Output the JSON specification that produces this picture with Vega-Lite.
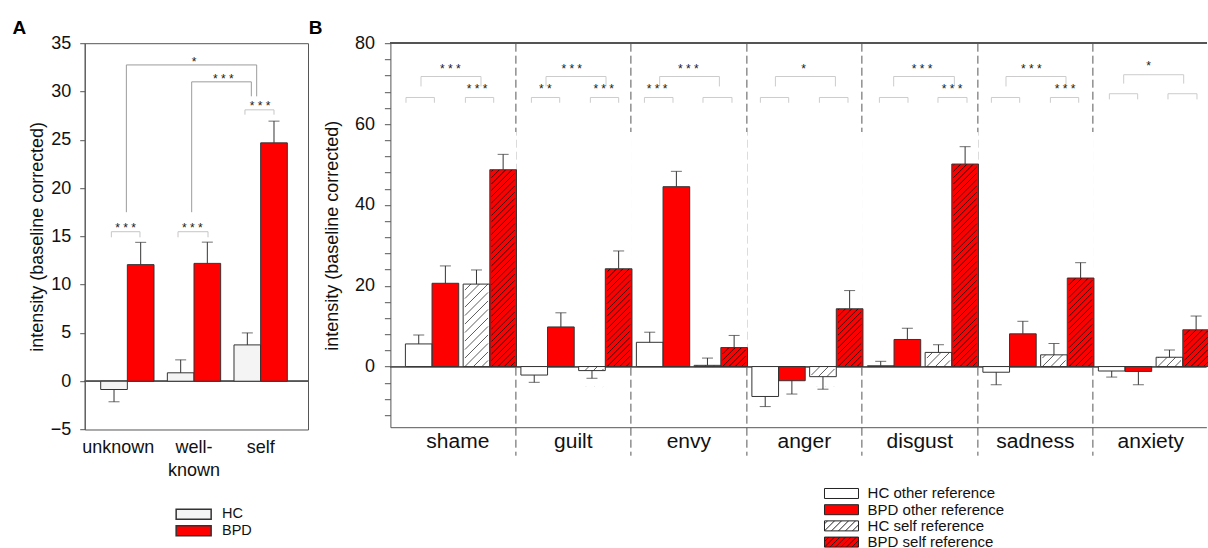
{
  "$schema": "https://vega.github.io/schema/vega-lite/v6.json",
  "padding": {"left": 11.7, "top": 18.2, "right": 0, "bottom": 0},
  "autosize": {"type": "pad"},
  "spacing": -1.3,
  "config": {
    "font": "Liberation Sans",
    "view": {"stroke": null},
    "axis": {"labelFont": "Liberation Sans", "titleFont": "Liberation Sans", "labelColor": "#111", "titleColor": "#111", "domainColor": "#555", "tickColor": "#555", "titleFontWeight": "normal", "grid": false},
    "legend": {"labelFont": "Liberation Sans", "labelColor": "#111"},
    "title": {"font": "Liberation Sans", "fontSize": 19, "fontWeight": "bold", "color": "#000", "anchor": "start", "frame": "group"}
  },
  "datasets": {
    "A": [
      {"cond": "unknown", "group": "HC", "value": -0.86, "err": -2.13},
      {"cond": "unknown", "group": "BPD", "value": 12.07, "err": 14.38},
      {"cond": "well-known", "group": "HC", "value": 0.87, "err": 2.21},
      {"cond": "well-known", "group": "BPD", "value": 12.2, "err": 14.4},
      {"cond": "self", "group": "HC", "value": 3.76, "err": 5.0},
      {"cond": "self", "group": "BPD", "value": 24.68, "err": 26.93}
    ],
    "Abr": [
      {"ua": -0.24, "ub": 0.189, "top": 15.48, "b1": 14.9, "b2": 14.9, "kind": "pair"},
      {"ua": 0.76, "ub": 1.21, "top": 15.48, "b1": 14.9, "b2": 14.9, "kind": "pair"},
      {"ua": 1.764, "ub": 2.2, "top": 28.1, "b1": 27.6, "b2": 27.6, "kind": "pair"},
      {"ua": -0.015, "ub": 1.94, "top": 32.75, "b1": 17.5, "b2": 29.5, "kind": "conn"},
      {"ua": 0.965, "ub": 1.86, "top": 31.0, "b1": 17.5, "b2": 29.5, "kind": "conn"}
    ],
    "Ast": [
      {"u": -0.025, "v": 15.45, "s": "* * *"},
      {"u": 0.975, "v": 15.45, "s": "* * *"},
      {"u": 1.99, "v": 28.04, "s": "* * *"},
      {"u": 1.0, "v": 32.69, "s": "*"},
      {"u": 1.44, "v": 30.89, "s": "* * *"}
    ],
    "B": [
      {"emotion": "shame", "ref": "other", "group": "HC", "cell": "shame|other", "series": "HC other reference", "value": 5.6, "err": 7.8},
      {"emotion": "shame", "ref": "other", "group": "BPD", "cell": "shame|other", "series": "BPD other reference", "value": 20.6, "err": 24.9},
      {"emotion": "shame", "ref": "self", "group": "HC", "cell": "shame|self", "series": "HC self reference", "value": 20.4, "err": 23.9},
      {"emotion": "shame", "ref": "self", "group": "BPD", "cell": "shame|self", "series": "BPD self reference", "value": 48.7, "err": 52.5},
      {"emotion": "guilt", "ref": "other", "group": "HC", "cell": "guilt|other", "series": "HC other reference", "value": -2.1, "err": -3.9},
      {"emotion": "guilt", "ref": "other", "group": "BPD", "cell": "guilt|other", "series": "BPD other reference", "value": 9.8, "err": 13.3},
      {"emotion": "guilt", "ref": "self", "group": "HC", "cell": "guilt|self", "series": "HC self reference", "value": -1.0, "err": -2.9},
      {"emotion": "guilt", "ref": "self", "group": "BPD", "cell": "guilt|self", "series": "BPD self reference", "value": 24.2, "err": 28.6},
      {"emotion": "envy", "ref": "other", "group": "HC", "cell": "envy|other", "series": "HC other reference", "value": 6.0, "err": 8.5},
      {"emotion": "envy", "ref": "other", "group": "BPD", "cell": "envy|other", "series": "BPD other reference", "value": 44.5, "err": 48.3},
      {"emotion": "envy", "ref": "self", "group": "HC", "cell": "envy|self", "series": "HC self reference", "value": 0.3, "err": 2.1},
      {"emotion": "envy", "ref": "self", "group": "BPD", "cell": "envy|self", "series": "BPD self reference", "value": 4.7, "err": 7.7},
      {"emotion": "anger", "ref": "other", "group": "HC", "cell": "anger|other", "series": "HC other reference", "value": -7.4, "err": -9.9},
      {"emotion": "anger", "ref": "other", "group": "BPD", "cell": "anger|other", "series": "BPD other reference", "value": -3.5, "err": -6.8},
      {"emotion": "anger", "ref": "self", "group": "HC", "cell": "anger|self", "series": "HC self reference", "value": -2.5, "err": -5.6},
      {"emotion": "anger", "ref": "self", "group": "BPD", "cell": "anger|self", "series": "BPD self reference", "value": 14.3, "err": 18.8},
      {"emotion": "disgust", "ref": "other", "group": "HC", "cell": "disgust|other", "series": "HC other reference", "value": 0.2, "err": 1.3},
      {"emotion": "disgust", "ref": "other", "group": "BPD", "cell": "disgust|other", "series": "BPD other reference", "value": 6.7, "err": 9.5},
      {"emotion": "disgust", "ref": "self", "group": "HC", "cell": "disgust|self", "series": "HC self reference", "value": 3.5, "err": 5.4},
      {"emotion": "disgust", "ref": "self", "group": "BPD", "cell": "disgust|self", "series": "BPD self reference", "value": 50.1, "err": 54.4},
      {"emotion": "sadness", "ref": "other", "group": "HC", "cell": "sadness|other", "series": "HC other reference", "value": -1.4, "err": -4.5},
      {"emotion": "sadness", "ref": "other", "group": "BPD", "cell": "sadness|other", "series": "BPD other reference", "value": 8.1, "err": 11.2},
      {"emotion": "sadness", "ref": "self", "group": "HC", "cell": "sadness|self", "series": "HC self reference", "value": 2.9, "err": 5.7},
      {"emotion": "sadness", "ref": "self", "group": "BPD", "cell": "sadness|self", "series": "BPD self reference", "value": 21.9, "err": 25.7},
      {"emotion": "anxiety", "ref": "other", "group": "HC", "cell": "anxiety|other", "series": "HC other reference", "value": -1.1, "err": -2.6},
      {"emotion": "anxiety", "ref": "other", "group": "BPD", "cell": "anxiety|other", "series": "BPD other reference", "value": -1.2, "err": -4.5},
      {"emotion": "anxiety", "ref": "self", "group": "HC", "cell": "anxiety|self", "series": "HC self reference", "value": 2.3, "err": 4.1},
      {"emotion": "anxiety", "ref": "self", "group": "BPD", "cell": "anxiety|self", "series": "BPD self reference", "value": 9.1, "err": 12.5}
    ],
    "Bbr": [
      {"ua": 0.010, "ub": 0.502, "top": 66.57, "b1": 65.26, "b2": 65.26},
      {"ua": 1.039, "ub": 1.529, "top": 66.57, "b1": 65.26, "b2": 65.26},
      {"ua": 2.182, "ub": 2.672, "top": 66.57, "b1": 65.26, "b2": 65.26},
      {"ua": 3.203, "ub": 3.693, "top": 66.57, "b1": 65.26, "b2": 65.26},
      {"ua": 4.139, "ub": 4.634, "top": 66.57, "b1": 65.26, "b2": 65.26},
      {"ua": 5.153, "ub": 5.655, "top": 66.57, "b1": 65.26, "b2": 65.26},
      {"ua": 6.147, "ub": 6.637, "top": 66.57, "b1": 65.26, "b2": 65.26},
      {"ua": 7.169, "ub": 7.664, "top": 66.57, "b1": 65.26, "b2": 65.26},
      {"ua": 8.208, "ub": 8.703, "top": 66.57, "b1": 65.26, "b2": 65.26},
      {"ua": 9.222, "ub": 9.725, "top": 66.57, "b1": 65.26, "b2": 65.26},
      {"ua": 10.147, "ub": 10.637, "top": 66.57, "b1": 65.26, "b2": 65.26},
      {"ua": 11.169, "ub": 11.659, "top": 66.57, "b1": 65.26, "b2": 65.26},
      {"ua": 12.190, "ub": 12.680, "top": 67.5, "b1": 66.1, "b2": 66.1},
      {"ua": 13.205, "ub": 13.707, "top": 67.5, "b1": 66.1, "b2": 66.1},
      {"ua": 0.270, "ub": 1.309, "top": 71.76, "b1": 69.3, "b2": 69.3},
      {"ua": 2.435, "ub": 3.474, "top": 71.76, "b1": 69.3, "b2": 69.3},
      {"ua": 4.403, "ub": 5.437, "top": 71.76, "b1": 69.3, "b2": 69.3},
      {"ua": 6.407, "ub": 7.446, "top": 71.76, "b1": 69.3, "b2": 69.3},
      {"ua": 8.455, "ub": 9.506, "top": 71.76, "b1": 69.3, "b2": 69.3},
      {"ua": 10.400, "ub": 11.439, "top": 71.76, "b1": 69.3, "b2": 69.3},
      {"ua": 12.438, "ub": 13.477, "top": 72.2, "b1": 70.0, "b2": 70.0}
    ],
    "Bst": [
      {"u": 0.779, "v": 72.75, "s": "* * *"},
      {"u": 2.880, "v": 72.75, "s": "* * *"},
      {"u": 4.900, "v": 72.75, "s": "* * *"},
      {"u": 6.897, "v": 72.75, "s": "*"},
      {"u": 8.946, "v": 72.75, "s": "* * *"},
      {"u": 10.840, "v": 72.75, "s": "* * *"},
      {"u": 12.871, "v": 73.35, "s": "*"},
      {"u": 1.240, "v": 67.73, "s": "* * *"},
      {"u": 2.424, "v": 67.73, "s": "* *"},
      {"u": 3.434, "v": 67.73, "s": "* * *"},
      {"u": 4.357, "v": 67.73, "s": "* * *"},
      {"u": 9.465, "v": 67.73, "s": "* * *"},
      {"u": 11.422, "v": 67.73, "s": "* * *"}
    ]
  },
  "hconcat": [
    {
      "width": 223.3,
      "height": 386.3,
      "view": {"stroke": "#555", "strokeWidth": 1},
      "title": {"text": "A", "dx": -72.3, "offset": -19, "baseline": "alphabetic"},
      "layer": [
        {
          "data": {"name": "A"},
          "layer": [
            {
              "mark": {"type": "rule", "color": "#555", "strokeWidth": 1},
              "encoding": {"y": {"datum": 0, "type": "quantitative", "scale": {"domain": [-5, 35], "nice": false, "zero": false}}}
            },
            {
              "mark": {"type": "bar", "stroke": "#333", "strokeWidth": 1},
              "encoding": {
                "x": {"field": "cond", "type": "nominal", "scale": {"type": "band", "domain": ["unknown", "well-known", "self"], "paddingInner": 0.2, "paddingOuter": 0.275, "align": 0.436, "round": false},
                  "axis": {"title": null, "ticks": false, "tickSize": 0, "domain": false, "labelFontSize": 18, "labelPadding": 9, "labelAngle": 0, "labelLineHeight": 23, "labelExpr": "datum.value === 'well-known' ? ['well-', 'known'] : datum.label", "labelOffset": {"condition": {"test": "datum.value === 'unknown'", "value": -9}, "value": 0}}},
                "xOffset": {"field": "group", "type": "nominal", "scale": {"domain": ["HC", "BPD"], "paddingInner": 0, "paddingOuter": 0}},
                "y": {"field": "value", "type": "quantitative", "stack": null, "scale": {"domain": [-5, 35], "nice": false, "zero": false},
                  "axis": {"title": "intensity (baseline corrected)", "values": [-5, 0, 5, 10, 15, 20, 25, 30, 35], "tickCount": 30, "tickSize": 5, "labelPadding": 9, "titlePadding": 4, "labelFontSize": 18, "titleFontSize": 18, "labelOverlap": false}},
                "fill": {"field": "group", "type": "nominal", "scale": {"domain": ["HC", "BPD"], "range": ["#f4f4f4", "#ff0000"]},
                  "legend": {"title": null, "orient": "none", "legendX": 101.7, "legendY": 463.8, "symbolType": "M-3.5,-1H3.5V1H-3.5Z", "symbolSize": 100, "labelFontSize": 14.5, "labelOffset": 21.1, "rowPadding": -0.5, "padding": 0,
                    "encode": {"symbols": {"update": {"stroke": {"value": "#222"}, "strokeWidth": {"value": 1}, "opacity": {"value": 1}}}}}}
              }
            },
            {
              "mark": {"type": "rule", "color": "#333", "strokeWidth": 1},
              "encoding": {
                "x": {"field": "cond", "type": "nominal", "scale": {"type": "band", "domain": ["unknown", "well-known", "self"], "paddingInner": 0.2, "paddingOuter": 0.275, "align": 0.436, "round": false}},
                "xOffset": {"field": "group", "type": "nominal", "scale": {"domain": ["HC", "BPD"], "paddingInner": 0, "paddingOuter": 0}},
                "y": {"field": "value", "type": "quantitative", "scale": {"domain": [-5, 35], "nice": false, "zero": false}},
                "y2": {"field": "err"}
              }
            },
            {
              "mark": {"type": "tick", "color": "#333", "size": 11, "thickness": 1},
              "encoding": {
                "x": {"field": "cond", "type": "nominal", "scale": {"type": "band", "domain": ["unknown", "well-known", "self"], "paddingInner": 0.2, "paddingOuter": 0.275, "align": 0.436, "round": false}},
                "xOffset": {"field": "group", "type": "nominal", "scale": {"domain": ["HC", "BPD"], "paddingInner": 0, "paddingOuter": 0}},
                "y": {"field": "err", "type": "quantitative", "scale": {"domain": [-5, 35], "nice": false, "zero": false}}
              }
            }
          ]
        },
        {
          "data": {"name": "Abr"},
          "encoding": {
            "color": {"field": "kind", "type": "nominal", "scale": {"domain": ["pair", "conn"], "range": ["#c6c6c6", "#9c9c9c"]}, "legend": null}
          },
          "layer": [
            {
              "mark": {"type": "rule", "strokeWidth": 1},
              "encoding": {
                "x": {"field": "ua", "type": "quantitative", "scale": {"domain": [-0.64, 2.71], "nice": false, "zero": false}, "axis": null},
                "x2": {"field": "ub"},
                "y": {"field": "top", "type": "quantitative", "scale": {"domain": [-5, 35], "nice": false, "zero": false}}
              }
            },
            {
              "mark": {"type": "rule", "strokeWidth": 1},
              "encoding": {
                "x": {"field": "ua", "type": "quantitative", "scale": {"domain": [-0.64, 2.71], "nice": false, "zero": false}, "axis": null},
                "y": {"field": "top", "type": "quantitative", "scale": {"domain": [-5, 35], "nice": false, "zero": false}},
                "y2": {"field": "b1"}
              }
            },
            {
              "mark": {"type": "rule", "strokeWidth": 1},
              "encoding": {
                "x": {"field": "ub", "type": "quantitative", "scale": {"domain": [-0.64, 2.71], "nice": false, "zero": false}, "axis": null},
                "y": {"field": "top", "type": "quantitative", "scale": {"domain": [-5, 35], "nice": false, "zero": false}},
                "y2": {"field": "b2"}
              }
            }
          ]
        },
        {
          "data": {"name": "Ast"},
          "mark": {"type": "text", "align": "center", "baseline": "alphabetic", "fontSize": 12, "color": "#222"},
          "encoding": {
            "x": {"field": "u", "type": "quantitative", "scale": {"domain": [-0.64, 2.71], "nice": false, "zero": false}, "axis": null},
            "y": {"field": "v", "type": "quantitative", "scale": {"domain": [-5, 35], "nice": false, "zero": false}},
            "text": {"field": "s"}
          }
        }
      ],
      "resolve": {"scale": {"x": "independent"}}
    },
    {
      "width": 816,
      "height": 384,
      "title": {"text": "B", "dx": -81.7, "offset": -19, "baseline": "alphabetic"},
      "layer": [
        {
          "data": {"name": "B"},
          "layer": [
            {
              "mark": {"type": "rule", "color": "#555", "strokeWidth": 1},
              "encoding": {"y": {"datum": 0, "type": "quantitative", "scale": {"domain": [-15, 80], "nice": false, "zero": false}}}
            },
            {
              "mark": {"type": "rule", "color": "#555", "strokeWidth": 1},
              "encoding": {"y": {"datum": 80, "type": "quantitative", "scale": {"domain": [-15, 80], "nice": false, "zero": false}}}
            },
            {
              "mark": {"type": "bar", "strokeWidth": 0},
              "encoding": {
                "x": {"field": "cell", "type": "nominal", "scale": {"type": "band", "domain": ["shame|other", "shame|self", "guilt|other", "guilt|self", "envy|other", "envy|self", "anger|other", "anger|self", "disgust|other", "disgust|self", "sadness|other", "sadness|self", "anxiety|other", "anxiety|self"], "paddingInner": 0.2, "paddingOuter": 0.165, "align": 0.787, "round": false},
                  "axis": {"title": null, "bandPosition": 0, "tickOffset": -5.77, "ticks": true, "tickSize": 28, "tickDash": [8, 4], "tickColor": "#555", "tickWidth": 1,
                    "tickOpacity": {"condition": {"test": "datum.value === 'guilt|other' || datum.value === 'envy|other' || datum.value === 'anger|other' || datum.value === 'disgust|other' || datum.value === 'sadness|other' || datum.value === 'anxiety|other'", "value": 1}, "value": 0},
                    "grid": true, "gridDash": [8, 4], "gridColor": "#555", "gridWidth": 1,
                    "gridOpacity": {"condition": {"test": "datum.value === 'guilt|other' || datum.value === 'envy|other' || datum.value === 'anger|other' || datum.value === 'disgust|other' || datum.value === 'sadness|other' || datum.value === 'anxiety|other'", "value": 1}, "value": 0},
                    "labelExpr": "datum.value === 'shame|other' ? 'shame' : datum.value === 'guilt|other' ? 'guilt' : datum.value === 'envy|other' ? 'envy' : datum.value === 'anger|other' ? 'anger' : datum.value === 'disgust|other' ? 'disgust' : datum.value === 'sadness|other' ? 'sadness' : datum.value === 'anxiety|other' ? 'anxiety' : ''",
                    "labelOffset": 34.63, "labelPadding": -25, "labelFontSize": 21, "labelAngle": 0, "labelOverlap": false, "labelBound": false, "labelFlush": false, "domainColor": "#555"}},
                "xOffset": {"field": "group", "type": "nominal", "scale": {"domain": ["HC", "BPD"], "paddingInner": 0, "paddingOuter": 0}},
                "y": {"field": "value", "type": "quantitative", "stack": null, "scale": {"domain": [-15, 80], "nice": false, "zero": false},
                  "axis": {"title": "intensity (baseline corrected)", "values": [-12, -8, -4, 0, 4, 8, 12, 16, 20, 24, 28, 32, 36, 40, 44, 48, 52, 56, 60, 64, 68, 72, 76, 80], "tickCount": 100, "labelExpr": "datum.value % 20 === 0 ? datum.label : ''", "tickSize": 6, "labelPadding": 10, "titlePadding": 12.5, "labelFontSize": 18, "titleFontSize": 18, "labelOverlap": false}},
                "fill": {"field": "series", "type": "nominal", "scale": {"domain": ["HC other reference", "BPD other reference", "HC self reference", "BPD self reference"], "range": ["#ffffff", "#ff0000", "#ffffff", "#ff0000"]},
                  "legend": {"title": null, "orient": "none", "legendX": 443.6, "legendY": 442.8, "symbolType": "M-3.4,-1H3.4V1H-3.4Z", "symbolSize": 100, "labelFontSize": 15, "labelOffset": 18.6, "rowPadding": 0.2, "padding": 0, "labelLimit": 400,
                    "encode": {"symbols": {"update": {
                      "shape": {"signal": "datum.value === 'HC self reference' ? 'M-3.4,-1H3.4V1H-3.4ZM-3.4,1L-1.4,-1M-2,1L0,-1M-0.6,1L1.4,-1M0.8,1L2.8,-1M2.2,1L3.4,-0.2M-3.4,-0.4L-2.8,-1' : datum.value === 'BPD self reference' ? 'M-3.4,-1H3.4V1H-3.4ZM-3.4,1L-1.4,-1M-2.3,1L-0.3,-1M-1.2,1L0.8,-1M-0.1,1L1.9,-1M1,1L3,-1M2.1,1L3.4,-0.3M3.2,1L3.4,0.8M-3.4,-0.1L-2.5,-1' : 'M-3.4,-1H3.4V1H-3.4Z'"},
                      "stroke": {"value": "#222"}, "strokeWidth": {"value": 1}, "opacity": {"value": 1}}}}}}
              }
            },
            {
              "transform": [{"filter": "datum.ref === 'self' && datum.group === 'BPD' && datum.value > 0"}],
              "mark": {"type": "point", "filled": false, "stroke": "#000", "strokeWidth": 0.8, "opacity": 1, "size": 4,
                "shape": "M-5.25,0l16.8,-16.8M1.05,0l10.5,-10.5M7.35,0l4.2,-4.2M-11.55,0l23.1,-23.1M-11.55,-6.3l23.1,-23.1M-11.55,-12.6l23.1,-23.1M-11.55,-18.9l23.1,-23.1M-11.55,-25.2l23.1,-23.1M-11.55,-31.5l23.1,-23.1M-11.55,-37.8l23.1,-23.1M-11.55,-44.1l23.1,-23.1M-11.55,-50.4l23.1,-23.1M-11.55,-56.7l23.1,-23.1M-11.55,-63l23.1,-23.1M-11.55,-69.3l23.1,-23.1M-11.55,-75.6l23.1,-23.1M-11.55,-81.9l23.1,-23.1M-11.55,-88.2l23.1,-23.1M-11.55,-94.5l23.1,-23.1M-11.55,-100.8l23.1,-23.1M-11.55,-107.1l23.1,-23.1M-11.55,-113.4l23.1,-23.1M-11.55,-119.7l23.1,-23.1M-11.55,-126l23.1,-23.1M-11.55,-132.3l23.1,-23.1M-11.55,-138.6l23.1,-23.1M-11.55,-144.9l23.1,-23.1M-11.55,-151.2l23.1,-23.1M-11.55,-157.5l23.1,-23.1M-11.55,-163.8l23.1,-23.1M-11.55,-170.1l23.1,-23.1M-11.55,-176.4l23.1,-23.1M-11.55,-182.7l23.1,-23.1M-11.55,-189l23.1,-23.1M-11.55,-195.3l23.1,-23.1M-11.55,-201.6l23.1,-23.1M-11.55,-207.9l23.1,-23.1"},
              "encoding": {
                "x": {"field": "cell", "type": "nominal", "scale": {"type": "band", "domain": ["shame|other", "shame|self", "guilt|other", "guilt|self", "envy|other", "envy|self", "anger|other", "anger|self", "disgust|other", "disgust|self", "sadness|other", "sadness|self", "anxiety|other", "anxiety|self"], "paddingInner": 0.2, "paddingOuter": 0.165, "align": 0.787, "round": false}},
                "xOffset": {"field": "group", "type": "nominal", "scale": {"domain": ["HC", "BPD"], "paddingInner": 0, "paddingOuter": 0}},
                "y": {"datum": 0, "type": "quantitative", "scale": {"domain": [-15, 80], "nice": false, "zero": false}}
              }
            },
            {
              "transform": [{"filter": "datum.ref === 'self' && datum.group === 'HC' && datum.value > 0"}],
              "mark": {"type": "point", "filled": false, "stroke": "#333", "strokeWidth": 0.8, "opacity": 1, "size": 4,
                "shape": "M-3.05,0l14.6,-14.6M5.45,0l6.1,-6.1M-11.55,0l23.1,-23.1M-11.55,-8.5l23.1,-23.1M-11.55,-17l23.1,-23.1M-11.55,-25.5l23.1,-23.1M-11.55,-34l23.1,-23.1M-11.55,-42.5l23.1,-23.1M-11.55,-51l23.1,-23.1M-11.55,-59.5l23.1,-23.1M-11.55,-68l23.1,-23.1M-11.55,-76.5l23.1,-23.1M-11.55,-85l23.1,-23.1M-11.55,-93.5l23.1,-23.1M-11.55,-102l23.1,-23.1M-11.55,-110.5l23.1,-23.1"},
              "encoding": {
                "x": {"field": "cell", "type": "nominal", "scale": {"type": "band", "domain": ["shame|other", "shame|self", "guilt|other", "guilt|self", "envy|other", "envy|self", "anger|other", "anger|self", "disgust|other", "disgust|self", "sadness|other", "sadness|self", "anxiety|other", "anxiety|self"], "paddingInner": 0.2, "paddingOuter": 0.165, "align": 0.787, "round": false}},
                "xOffset": {"field": "group", "type": "nominal", "scale": {"domain": ["HC", "BPD"], "paddingInner": 0, "paddingOuter": 0}},
                "y": {"datum": 0, "type": "quantitative", "scale": {"domain": [-15, 80], "nice": false, "zero": false}}
              }
            },
            {
              "transform": [{"filter": "datum.ref === 'self' && datum.group === 'HC' && datum.value < 0"}],
              "mark": {"type": "point", "filled": false, "stroke": "#333", "strokeWidth": 0.8, "opacity": 1, "size": 4,
                "shape": "M-11.55,8.5L-3.05,0M-11.55,17L5.45,0M-6.05,20L11.55,2.4M2.45,20L11.55,10.9M10.95,20L11.55,19.4"},
              "encoding": {
                "x": {"field": "cell", "type": "nominal", "scale": {"type": "band", "domain": ["shame|other", "shame|self", "guilt|other", "guilt|self", "envy|other", "envy|self", "anger|other", "anger|self", "disgust|other", "disgust|self", "sadness|other", "sadness|self", "anxiety|other", "anxiety|self"], "paddingInner": 0.2, "paddingOuter": 0.165, "align": 0.787, "round": false}},
                "xOffset": {"field": "group", "type": "nominal", "scale": {"domain": ["HC", "BPD"], "paddingInner": 0, "paddingOuter": 0}},
                "y": {"datum": 0, "type": "quantitative", "scale": {"domain": [-15, 80], "nice": false, "zero": false}}
              }
            },
            {
              "transform": [{"filter": "datum.ref === 'self' && datum.value > 0"}],
              "mark": {"type": "bar", "fill": "#ffffff", "strokeWidth": 0},
              "encoding": {
                "x": {"field": "cell", "type": "nominal", "scale": {"type": "band", "domain": ["shame|other", "shame|self", "guilt|other", "guilt|self", "envy|other", "envy|self", "anger|other", "anger|self", "disgust|other", "disgust|self", "sadness|other", "sadness|self", "anxiety|other", "anxiety|self"], "paddingInner": 0.2, "paddingOuter": 0.165, "align": 0.787, "round": false}},
                "xOffset": {"field": "group", "type": "nominal", "scale": {"domain": ["HC", "BPD"], "paddingInner": 0, "paddingOuter": 0}},
                "y": {"field": "value", "type": "quantitative", "stack": null, "scale": {"domain": [-15, 80], "nice": false, "zero": false}},
                "y2": {"datum": 58}
              }
            },
            {
              "transform": [{"filter": "datum.ref === 'self' && datum.value < 0"}],
              "mark": {"type": "bar", "fill": "#ffffff", "strokeWidth": 0},
              "encoding": {
                "x": {"field": "cell", "type": "nominal", "scale": {"type": "band", "domain": ["shame|other", "shame|self", "guilt|other", "guilt|self", "envy|other", "envy|self", "anger|other", "anger|self", "disgust|other", "disgust|self", "sadness|other", "sadness|self", "anxiety|other", "anxiety|self"], "paddingInner": 0.2, "paddingOuter": 0.165, "align": 0.787, "round": false}},
                "xOffset": {"field": "group", "type": "nominal", "scale": {"domain": ["HC", "BPD"], "paddingInner": 0, "paddingOuter": 0}},
                "y": {"field": "value", "type": "quantitative", "stack": null, "scale": {"domain": [-15, 80], "nice": false, "zero": false}},
                "y2": {"datum": -5}
              }
            },
            {
              "mark": {"type": "bar", "fill": "transparent", "stroke": "#333", "strokeWidth": 1},
              "encoding": {
                "x": {"field": "cell", "type": "nominal", "scale": {"type": "band", "domain": ["shame|other", "shame|self", "guilt|other", "guilt|self", "envy|other", "envy|self", "anger|other", "anger|self", "disgust|other", "disgust|self", "sadness|other", "sadness|self", "anxiety|other", "anxiety|self"], "paddingInner": 0.2, "paddingOuter": 0.165, "align": 0.787, "round": false}},
                "xOffset": {"field": "group", "type": "nominal", "scale": {"domain": ["HC", "BPD"], "paddingInner": 0, "paddingOuter": 0}},
                "y": {"field": "value", "type": "quantitative", "stack": null, "scale": {"domain": [-15, 80], "nice": false, "zero": false}}
              }
            },
            {
              "mark": {"type": "rule", "color": "#333", "strokeWidth": 1},
              "encoding": {
                "x": {"field": "cell", "type": "nominal", "scale": {"type": "band", "domain": ["shame|other", "shame|self", "guilt|other", "guilt|self", "envy|other", "envy|self", "anger|other", "anger|self", "disgust|other", "disgust|self", "sadness|other", "sadness|self", "anxiety|other", "anxiety|self"], "paddingInner": 0.2, "paddingOuter": 0.165, "align": 0.787, "round": false}},
                "xOffset": {"field": "group", "type": "nominal", "scale": {"domain": ["HC", "BPD"], "paddingInner": 0, "paddingOuter": 0}},
                "y": {"field": "value", "type": "quantitative", "scale": {"domain": [-15, 80], "nice": false, "zero": false}},
                "y2": {"field": "err"}
              }
            },
            {
              "mark": {"type": "tick", "color": "#333", "size": 11, "thickness": 1},
              "encoding": {
                "x": {"field": "cell", "type": "nominal", "scale": {"type": "band", "domain": ["shame|other", "shame|self", "guilt|other", "guilt|self", "envy|other", "envy|self", "anger|other", "anger|self", "disgust|other", "disgust|self", "sadness|other", "sadness|self", "anxiety|other", "anxiety|self"], "paddingInner": 0.2, "paddingOuter": 0.165, "align": 0.787, "round": false}},
                "xOffset": {"field": "group", "type": "nominal", "scale": {"domain": ["HC", "BPD"], "paddingInner": 0, "paddingOuter": 0}},
                "y": {"field": "err", "type": "quantitative", "scale": {"domain": [-15, 80], "nice": false, "zero": false}}
              }
            }
          ]
        },
        {
          "data": {"name": "Bbr"},
          "layer": [
            {
              "mark": {"type": "rule", "color": "#cccccc", "strokeWidth": 1},
              "encoding": {
                "x": {"field": "ua", "type": "quantitative", "scale": {"domain": [-0.2597, 13.87], "nice": false, "zero": false}, "axis": null},
                "x2": {"field": "ub"},
                "y": {"field": "top", "type": "quantitative", "scale": {"domain": [-15, 80], "nice": false, "zero": false}}
              }
            },
            {
              "mark": {"type": "rule", "color": "#cccccc", "strokeWidth": 1},
              "encoding": {
                "x": {"field": "ua", "type": "quantitative", "scale": {"domain": [-0.2597, 13.87], "nice": false, "zero": false}, "axis": null},
                "y": {"field": "top", "type": "quantitative", "scale": {"domain": [-15, 80], "nice": false, "zero": false}},
                "y2": {"field": "b1"}
              }
            },
            {
              "mark": {"type": "rule", "color": "#cccccc", "strokeWidth": 1},
              "encoding": {
                "x": {"field": "ub", "type": "quantitative", "scale": {"domain": [-0.2597, 13.87], "nice": false, "zero": false}, "axis": null},
                "y": {"field": "top", "type": "quantitative", "scale": {"domain": [-15, 80], "nice": false, "zero": false}},
                "y2": {"field": "b2"}
              }
            }
          ]
        },
        {
          "data": {"name": "Bst"},
          "mark": {"type": "text", "align": "center", "baseline": "alphabetic", "fontSize": 12, "color": "#222"},
          "encoding": {
            "x": {"field": "u", "type": "quantitative", "scale": {"domain": [-0.2597, 13.87], "nice": false, "zero": false}, "axis": null},
            "y": {"field": "v", "type": "quantitative", "scale": {"domain": [-15, 80], "nice": false, "zero": false}},
            "text": {"field": "s"}
          }
        }
      ],
      "resolve": {"scale": {"x": "independent"}}
    }
  ],
  "resolve": {"scale": {"fill": "independent", "color": "independent"}, "legend": {"fill": "independent"}}
}
